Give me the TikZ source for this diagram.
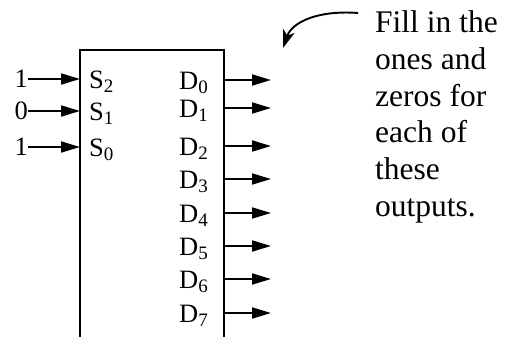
\documentclass[tikz,border=0pt]{standalone}
\usepackage{fontspec}
\setmainfont{Liberation Serif}
\usetikzlibrary{arrows.meta}
\newcommand\mysub[1]{\raisebox{-4pt}{\fontsize{19}{19}\selectfont #1}}
\begin{document}
\begin{tikzpicture}[x=1pt,y=-1pt,
  wire/.style={line width=1.9pt,-{Triangle[length=19pt,width=11pt]}},
  lbl/.style={font=\fontsize{26.5}{26.5}\selectfont,inner sep=0pt},
  note/.style={font=\fontsize{31.5}{36.8}\selectfont,inner sep=0pt,align=left,anchor=north west}]
\useasboundingbox (0,0) rectangle (510,337);
% box with open bottom
\draw[line width=1.9pt] (80,337) -- (80,50) -- (224,50) -- (224,337);
% inputs
\foreach \v/\y/\n/\s in {1/79/a/2, 0/111/b/1, 1/147/c/0}{
  \node[lbl,anchor=east] (in\n) at (28,\y) {\v};
  \coordinate (e\n) at (80,\y);
  \draw[wire] (in\n) -- (e\n);
  \node[lbl,anchor=base west] (s\n) at (89,\y+9) {S\mysub{\s}};
}
% outputs
\foreach \i/\y in {0/80,1/108,2/146,3/179,4/213,5/246,6/279,7/313}{
  \node[lbl,anchor=base west] (d\i) at (179,\y+9) {D\mysub{\i}};
  \coordinate (o\i) at (224,\y);
  \coordinate (t\i) at (271,\y);
  \draw[wire] (o\i) -- (t\i);
}
% note
\node[note] (txt) at (375,10.5) {Fill in the\\ones and\\zeros for\\each of\\these\\outputs.};
\coordinate (cs) at (358,13);
\coordinate (ce) at (283,48);
\draw[line width=1.9pt,-{Stealth[length=18pt,width=12pt,inset=5pt]}] (cs) .. controls (318,10) and (292,22) .. (ce);
\end{tikzpicture}
\end{document}
